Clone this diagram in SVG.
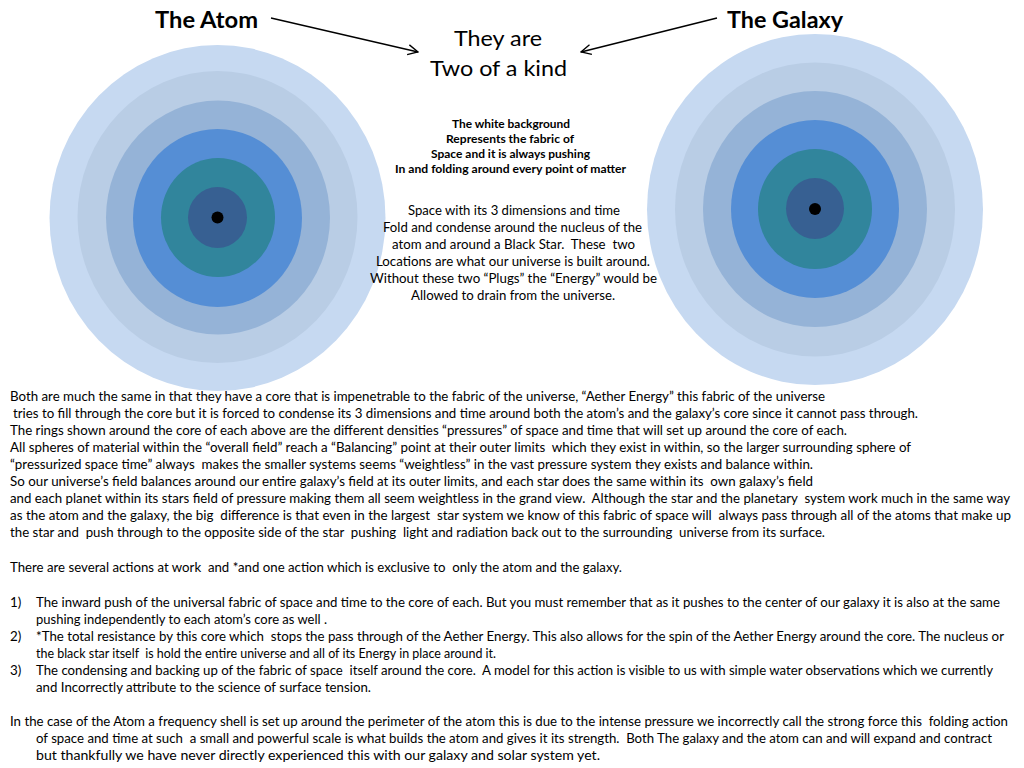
<svg xmlns="http://www.w3.org/2000/svg" width="1024" height="768" viewBox="0 0 1024 768">
<style>
.r1{fill:#c6d9f1}.r2{fill:#b9cde5}.r3{fill:#95b3d7}.r4{fill:#558ed5}.r5{fill:#31859c}.r6{fill:#376092}.dot{fill:#000}
text{font-family:Lato,"Open Sans","Liberation Sans",sans-serif;fill:#000;white-space:pre}
.h{font-size:22px;font-weight:bold}
.t{font-size:22px}
.b{font-size:11.5px;font-weight:bold;text-anchor:middle}
.m{font-size:13px;text-anchor:middle}
.p{font-size:13.4px}
.ln{stroke:#000;stroke-width:1.3;fill:none}
</style>
<defs>
<marker id="ah" viewBox="0 0 12 12" refX="11" refY="6" markerWidth="12" markerHeight="12" markerUnits="userSpaceOnUse" orient="auto">
<path d="M1,1 L11,6 L1,11" fill="none" stroke="#000" stroke-width="1.3"/>
</marker>
</defs>
<rect width="1024" height="768" fill="#fff"/>
<g id="atom">
<ellipse class="r1" cx="217.5" cy="218" rx="168" ry="173"/>
<ellipse class="r2" cx="217.5" cy="217" rx="140" ry="146"/>
<ellipse class="r3" cx="218" cy="217.5" rx="112" ry="117"/>
<ellipse class="r4" cx="217.5" cy="218" rx="84.5" ry="89"/>
<ellipse class="r5" cx="218" cy="217.5" rx="57" ry="59.5"/>
<ellipse class="r6" cx="217.5" cy="217.5" rx="29.5" ry="30.5"/>
<circle class="dot" cx="217.5" cy="217.5" r="6"/>
</g>
<g id="galaxy">
<ellipse class="r1" cx="815" cy="209.5" rx="168" ry="175.5"/>
<ellipse class="r2" cx="815" cy="209.5" rx="140" ry="147"/>
<ellipse class="r3" cx="815" cy="209" rx="112" ry="118"/>
<ellipse class="r4" cx="815" cy="209" rx="84" ry="89"/>
<ellipse class="r5" cx="815" cy="209" rx="57" ry="60"/>
<ellipse class="r6" cx="815" cy="208.5" rx="29" ry="30.5"/>
<circle class="dot" cx="815" cy="209" r="6"/>
</g>
<g id="connectors">
<line class="ln" x1="271" y1="18" x2="418" y2="52" marker-end="url(#ah)"/>
<line class="ln" x1="717" y1="18" x2="581" y2="52" marker-end="url(#ah)"/>
</g>
<g id="label-atom"><text class="h" x="155" y="28" textLength="103" lengthAdjust="spacingAndGlyphs">The Atom</text></g>
<g id="label-galaxy"><text class="h" x="727" y="28" textLength="116" lengthAdjust="spacingAndGlyphs">The Galaxy</text></g>
<g id="label-kind">
<text class="t" x="454" y="46" textLength="88" lengthAdjust="spacingAndGlyphs">They are</text>
<text class="t" x="430" y="76" textLength="137" lengthAdjust="spacingAndGlyphs">Two of a kind</text>
</g>
<g id="note-background">
<text class="b" x="511" y="128" textLength="118" lengthAdjust="spacingAndGlyphs">The white background</text>
<text class="b" x="510" y="143" textLength="128" lengthAdjust="spacingAndGlyphs">Represents the fabric of</text>
<text class="b" x="510.5" y="158" textLength="159" lengthAdjust="spacingAndGlyphs">Space and it is always pushing</text>
<text class="b" x="510.5" y="173" textLength="231" lengthAdjust="spacingAndGlyphs">In and folding around every point of matter</text>
</g>
<g id="note-space">
<text class="m" x="514" y="215" textLength="212" lengthAdjust="spacingAndGlyphs">Space with its 3 dimensions and time</text>
<text class="m" x="512.5" y="232" textLength="259" lengthAdjust="spacingAndGlyphs">Fold and condense around the nucleus of the</text>
<text class="m" x="513.5" y="249" textLength="243" lengthAdjust="spacingAndGlyphs">atom and around a Black Star.  These  two</text>
<text class="m" x="513" y="266" textLength="274" lengthAdjust="spacingAndGlyphs">Locations are what our universe is built around.</text>
<text class="m" x="513.5" y="283" textLength="287" lengthAdjust="spacingAndGlyphs">Without these two “Plugs” the “Energy” would be</text>
<text class="m" x="513" y="300" textLength="204" lengthAdjust="spacingAndGlyphs">Allowed to drain from the universe.</text>
</g>
<g id="body">
<text class="p" x="10" y="401" textLength="815" lengthAdjust="spacingAndGlyphs">Both are much the same in that they have a core that is impenetrable to the fabric of the universe, “Aether Energy” this fabric of the universe</text>
<text class="p" x="13" y="418" textLength="905" lengthAdjust="spacingAndGlyphs">tries to fill through the core but it is forced to condense its 3 dimensions and time around both the atom’s and the galaxy’s core since it cannot pass through.</text>
<text class="p" x="10" y="435" textLength="837" lengthAdjust="spacingAndGlyphs">The rings shown around the core of each above are the different densities “pressures” of space and time that will set up around the core of each.</text>
<text class="p" x="10" y="452" textLength="901" lengthAdjust="spacingAndGlyphs">All spheres of material within the “overall field” reach a “Balancing” point at their outer limits  which they exist in within, so the larger surrounding sphere of</text>
<text class="p" x="10" y="469" textLength="803" lengthAdjust="spacingAndGlyphs">“pressurized space time” always  makes the smaller systems seems “weightless” in the vast pressure system they exists and balance within.</text>
<text class="p" x="10" y="486" textLength="803" lengthAdjust="spacingAndGlyphs">So our universe’s field balances around our entire galaxy’s field at its outer limits, and each star does the same within its  own galaxy’s field</text>
<text class="p" x="10" y="503" textLength="1000" lengthAdjust="spacingAndGlyphs">and each planet within its stars field of pressure making them all seem weightless in the grand view.  Although the star and the planetary  system work much in the same way</text>
<text class="p" x="10" y="520" textLength="1001" lengthAdjust="spacingAndGlyphs">as the atom and the galaxy, the big  difference is that even in the largest  star system we know of this fabric of space will  always pass through all of the atoms that make up</text>
<text class="p" x="10" y="537" textLength="815" lengthAdjust="spacingAndGlyphs">the star and  push through to the opposite side of the star  pushing  light and radiation back out to the surrounding  universe from its surface.</text>
<text class="p" x="10" y="572" textLength="612" lengthAdjust="spacingAndGlyphs">There are several actions at work  and *and one action which is exclusive to  only the atom and the galaxy.</text>
<text class="p" x="10" y="607">1)</text>
<text class="p" x="36" y="607" textLength="964" lengthAdjust="spacingAndGlyphs">The inward push of the universal fabric of space and time to the core of each. But you must remember that as it pushes to the center of our galaxy it is also at the same</text>
<text class="p" x="36" y="624" textLength="291" lengthAdjust="spacingAndGlyphs">pushing independently to each atom’s core as well .</text>
<text class="p" x="10" y="641">2)</text>
<text class="p" x="36" y="641" textLength="968" lengthAdjust="spacingAndGlyphs">*The total resistance by this core which  stops the pass through of the Aether Energy. This also allows for the spin of the Aether Energy around the core. The nucleus or</text>
<text class="p" x="36" y="658" textLength="460" lengthAdjust="spacingAndGlyphs">the black star itself  is hold the entire universe and all of its Energy in place around it.</text>
<text class="p" x="10" y="675">3)</text>
<text class="p" x="36" y="675" textLength="957" lengthAdjust="spacingAndGlyphs">The condensing and backing up of the fabric of space  itself around the core.  A model for this action is visible to us with simple water observations which we currently</text>
<text class="p" x="36" y="692" textLength="335" lengthAdjust="spacingAndGlyphs">and Incorrectly attribute to the science of surface tension.</text>
<text class="p" x="10" y="726" textLength="998" lengthAdjust="spacingAndGlyphs">In the case of the Atom a frequency shell is set up around the perimeter of the atom this is due to the intense pressure we incorrectly call the strong force this  folding action</text>
<text class="p" x="36" y="743" textLength="956" lengthAdjust="spacingAndGlyphs">of space and time at such  a small and powerful scale is what builds the atom and gives it its strength.  Both The galaxy and the atom can and will expand and contract</text>
<text class="p" x="36" y="760" textLength="564" lengthAdjust="spacingAndGlyphs">but thankfully we have never directly experienced this with our galaxy and solar system yet.</text>
</g>
</svg>
